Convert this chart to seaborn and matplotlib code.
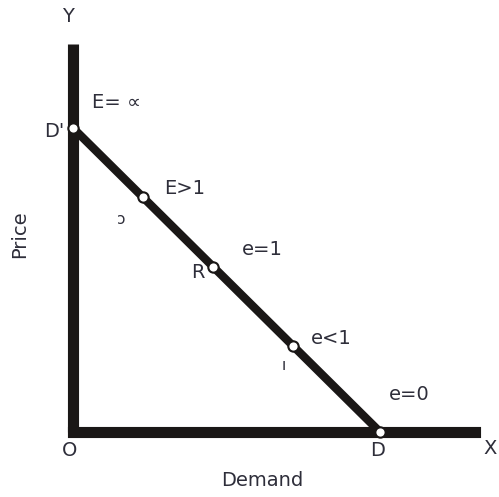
import numpy as np
import pandas as pd
import seaborn as sns
import matplotlib.pyplot as plt

sns.set_style("white")
plt.rcParams['font.family'] = ['DejaVu Sans']

# Straight-line demand curve: quantity vs price (arbitrary units)
quantity = [0.0, 2.28, 4.56, 7.17, 10.0]
price = [10.0, 7.72, 5.44, 2.83, 0.0]
x_axis_end = 13.1
y_axis_end = 12.75

df = pd.DataFrame({'quantity': quantity, 'price': price})

fig = plt.figure(figsize=(4.99, 4.97), dpi=100)
ax = fig.add_axes([0, 0, 1, 1])

# axes drawn as thick bars
ax.plot([0, x_axis_end], [0, 0], color='#1a1716', lw=8, solid_capstyle='projecting', zorder=2)
ax.plot([0, 0], [0, y_axis_end], color='#1a1716', lw=8, solid_capstyle='butt', zorder=2)

# demand line and the marked points
sns.lineplot(data=df, x='quantity', y='price', ax=ax, color='#1a1716', lw=6, zorder=3)
sns.scatterplot(data=df, x='quantity', y='price', ax=ax, s=55, color='white',
                edgecolor='#1a1716', linewidth=1.5, zorder=4)

# pixel layout: origin at (73, 432), ~30.6 px per unit
ax.set_xlim(-73 / 30.7, (499 - 73) / 30.7)
ax.set_ylim(-(497 - 432) / 30.4, 432 / 30.4)
ax.axis('off')

txt = '#2e2e3a'
fs = 14


def label(s, x, y, ha='left', size=fs, rot=0):
    fig.text(x / 499, 1 - y / 497, s, ha=ha, va='center', fontsize=size,
             color=txt, rotation=rot)


label('Y', 68, 17, ha='center')
label('E= \u221d', 92, 103)
label("D'", 64, 131, ha='right')
label('E>1', 164, 189)
label('\u0254', 121, 220, ha='center', size=11)
label('Price', 20, 234, ha='center', rot=90)
label('R', 198, 273, ha='center')
label('e=1', 242, 250)
label('e<1', 311, 338)
label('\u0131', 284, 365, ha='center', size=11)
label('e=0', 389, 395)
label('O', 70, 451, ha='center')
label('D', 378, 451, ha='center')
label('X', 497, 449, ha='right')
label('Demand', 262, 481, ha='center')

fig.savefig('out.png', dpi=100)
